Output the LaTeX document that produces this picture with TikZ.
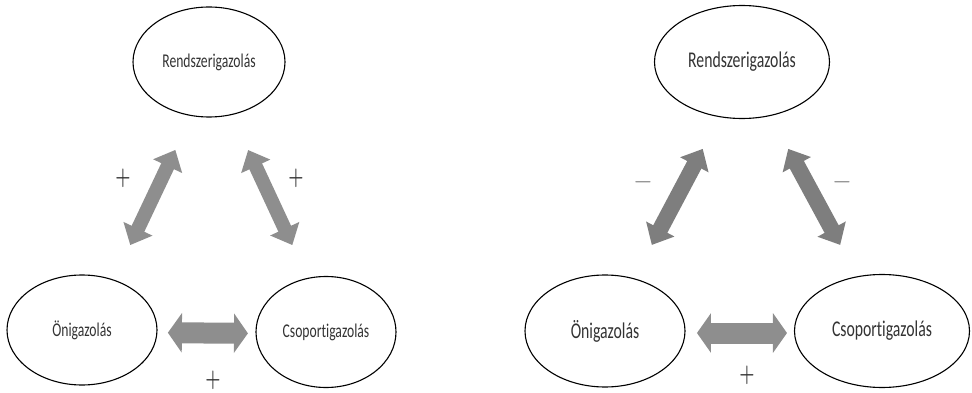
\documentclass[tikz,border=0pt]{standalone}
\usepackage{fontspec}
\newfontfamily\bubblefont[FakeStretch=0.7,Ligatures=NoCommon]{Carlito}
\usetikzlibrary{positioning,shapes.geometric,arrows.meta,calc}
\definecolor{arrowgray}{HTML}{8E8E8E}
\definecolor{arrowdark}{HTML}{7E7E7E}
\definecolor{textgray}{HTML}{333333}
\definecolor{signgray}{HTML}{6E6E6E}
\newcommand\narrowsign[1]{\scalebox{0.7}[1]{#1}}

\begin{document}
\begin{tikzpicture}[x=1pt,y=-1pt,
  bubble/.style={ellipse,draw,line width=1.1pt,inner sep=0pt,text=textgray,font=\bubblefont\fontsize{19.5}{22}\selectfont},
  bigbubble/.style={bubble,font=\bubblefont\fontsize{22.5}{25}\selectfont},
  slimarrow/.style={line width=14pt,arrowgray,{Triangle[width=31pt,length=18pt]}-{Triangle[width=31pt,length=18pt]}},
  flatarrow/.style={line width=21pt,arrowgray,{Triangle[width=39pt,length=14pt]}-{Triangle[width=39pt,length=14pt]}},
  sign/.style={inner sep=0pt,text=textgray,font=\fontsize{29}{29}\selectfont}]
\useasboundingbox (0,0) rectangle (972,393);
\node [bubble,minimum width=152pt,minimum height=110pt] (topL) at (209,62) {Rendszerigazolás};
\node [bubble,minimum width=150pt,minimum height=110pt,on grid,below left=268pt and 127pt of topL] (leftL) {Önigazolás};
\node [bubble,minimum width=140pt,minimum height=111pt,on grid,below right=270pt and 117pt of topL] (rightL) {Csoportigazolás};
\node [bigbubble,minimum width=175pt,minimum height=113pt,on grid,right=533pt of topL] (topR) {Rendszerigazolás};
\node [bigbubble,minimum width=160pt,minimum height=112pt,on grid,below left=269pt and 137pt of topR] (leftR) {Önigazolás};
\node [bigbubble,minimum width=175pt,minimum height=113pt,on grid,below right=269pt and 140pt of topR] (rightR) {Csoportigazolás};
\draw [slimarrow] ($(topL)!0.328!(leftL)+(8,0)$) -- ($(topL)!0.683!(leftL)+(8,0)$);
\draw [slimarrow] ($(topL)!0.326!(rightL)+(1,0)$) -- ($(topL)!0.678!(rightL)+(4,0)$);
\draw [flatarrow] ($(leftL)!0.352!(rightL)+(0,2)$) -- ($(leftL)!0.680!(rightL)+(0,2)$);
\draw [slimarrow,arrowdark,line width=16pt] ($(topR)!0.323!(leftR)+(5,0)$) -- ($(topR)!0.680!(leftR)+(3,0)$);
\draw [slimarrow,arrowdark,line width=16pt] ($(topR)!0.323!(rightR)+(1,0)$) -- ($(topR)!0.680!(rightR)+(3,0)$);
\draw [flatarrow] ($(leftR)!0.332!(rightR)+(0,2)$) -- ($(leftR)!0.657!(rightR)+(0,2)$);
\node [sign] (plusTL) at (123,178) {\narrowsign{\boldmath$+$}};
\node [sign] (plusTR) at (296,178) {\narrowsign{\boldmath$+$}};
\node [sign] (plusB) at (213,380) {\narrowsign{\boldmath$+$}};
\node [sign,text=signgray,font=\fontsize{24}{24}\selectfont] (minusTL) at (643,182) {$-$};
\node [sign,text=signgray,font=\fontsize{24}{24}\selectfont] (minusTR) at (842,182) {$-$};
\node [sign] (plusBR) at (747,375) {\narrowsign{\boldmath$+$}};
\end{tikzpicture}
\end{document}
